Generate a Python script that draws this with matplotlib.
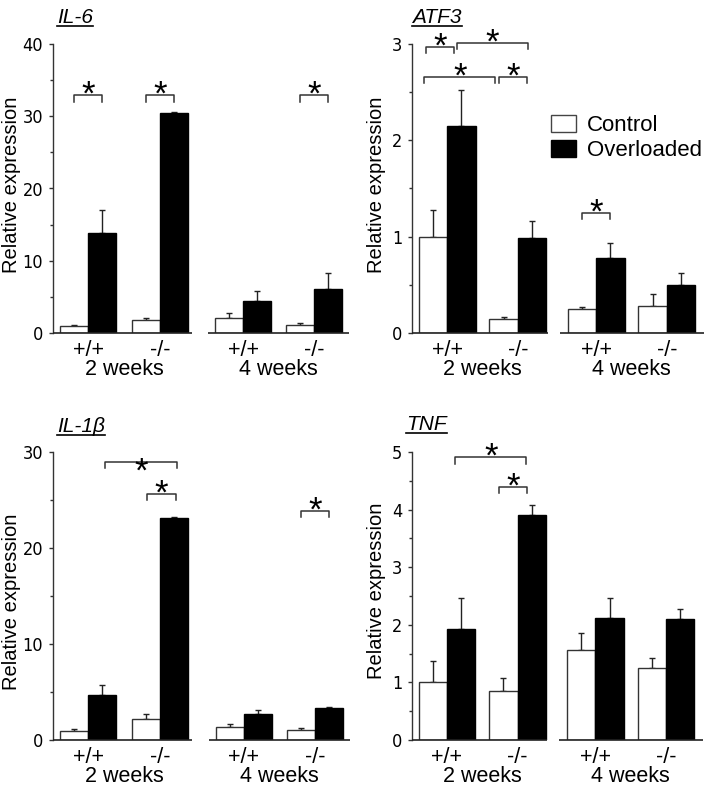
import matplotlib
matplotlib.use("Agg")
import matplotlib.pyplot as plt
from matplotlib import font_manager
from matplotlib.font_manager import FontProperties
from matplotlib.patches import Patch
from matplotlib.lines import Line2D
import numpy as np

plt.rcParams["font.family"] = ["Liberation Sans", "DejaVu Sans"]

# bar order in each panel: 2 wk +/+, 2 wk -/-, 4 wk +/+, 4 wk -/-
genotypes = ["+/+", "-/-", "+/+", "-/-"]
weeks = ["2 weeks", "4 weeks"]
series = ["Control", "Overloaded"]

il6_ctrl = [1.0, 1.75, 2.1, 1.15]
il6_ctrl_err = [0.1, 0.3, 0.7, 0.3]
il6_over = [13.8, 30.4, 4.45, 6.05]
il6_over_err = [3.2, 0.15, 1.3, 2.2]

atf3_ctrl = [1.0, 0.145, 0.25, 0.285]
atf3_ctrl_err = [0.28, 0.02, 0.025, 0.115]
atf3_over = [2.15, 0.99, 0.78, 0.50]
atf3_over_err = [0.37, 0.17, 0.155, 0.12]

il1b_ctrl = [0.97, 2.16, 1.39, 1.04]
il1b_ctrl_err = [0.18, 0.52, 0.24, 0.25]
il1b_over = [4.66, 23.08, 2.71, 3.34]
il1b_over_err = [1.04, 0.1, 0.45, 0.14]

tnf_ctrl = [1.0, 0.85, 1.56, 1.25]
tnf_ctrl_err = [0.38, 0.225, 0.3, 0.18]
tnf_over = [1.93, 3.91, 2.12, 2.10]
tnf_over_err = [0.53, 0.17, 0.34, 0.17]

# significance brackets: (bar a, bar b, height, x shift, star on line)
# bars: 0/1 = ctrl/over 2wk +/+, 2/3 = 2wk -/-, 4/5 = 4wk +/+, 6/7 = 4wk -/-
il6_sig = [(0, 1, 32.9, 0, False), (2, 3, 32.9, 0, False), (6, 7, 32.9, 0, False)]
atf3_sig = [(0, 1, 2.97, -0.25, False), (1, 3, 3.01, -0.15, False),
            (0, 2, 2.66, -0.3, False), (2, 3, 2.66, -0.17, False),
            (4, 5, 1.245, 0, False)]
il1b_sig = [(1, 3, 28.95, 0.1, True), (2, 3, 25.65, 0.04, False),
            (6, 7, 23.88, 0, False)]
tnf_sig = [(1, 3, 4.91, -0.2, False), (2, 3, 4.40, -0.17, False)]

# condensed face for the y tick numbers, if one is installed
tick_prop = FontProperties(family="Liberation Sans", size=12.5)
cands = [f.fname for f in font_manager.fontManager.ttflist
         if ("LiberationSansNarrow-Regular" in f.fname.replace(" ", ""))]
cands += [f.fname for f in font_manager.fontManager.ttflist
          if f.fname.endswith("DejaVuSansCondensed.ttf")]
if cands:
    tick_prop = FontProperties(fname=cands[0], size=13)

W, H = 710, 794
fig = plt.figure(figsize=(W / 100, H / 100), dpi=100)
fig.patch.set_facecolor("white")

left_col = dict(centers=[1.25, 3.82, 6.79, 9.32], segs=[(0, 4.96), (5.54, 10.57)])
right_col = dict(centers=[1.23, 3.72, 6.46, 8.95], segs=[(0, 4.77), (5.19, 10.25)])

panels = [
    ("IL-6", (53, 349, 44, 333), left_col, 40, 10, il6_ctrl, il6_ctrl_err,
     il6_over, il6_over_err, il6_sig, (57, 23), (-41, 0.514)),
    ("ATF3", (412, 704, 44, 333), right_col, 3, 1, atf3_ctrl, atf3_ctrl_err,
     atf3_over, atf3_over_err, atf3_sig, (412, 23), (-36, 0.514)),
    ("IL-1\u03b2", (53, 350, 452, 740), left_col, 30, 10, il1b_ctrl, il1b_ctrl_err,
     il1b_over, il1b_over_err, il1b_sig, (57, 432), (-41, 0.479)),
    ("TNF", (412, 703, 452, 740), right_col, 5, 1, tnf_ctrl, tnf_ctrl_err,
     tnf_over, tnf_over_err, tnf_sig, (406, 430), (-35, 0.517)),
]

titles = []
for (name, (l, r, t, b), col, ymax, step, ctrl, ctrl_err, over, over_err,
     sig, title_pos, ylab_pos) in panels:
    ax = fig.add_axes([l / W, 1 - b / H, (r - l) / W, (b - t) / H])
    centers = np.array(col["centers"])
    x_ctrl = centers - 0.5
    x_over = centers + 0.5
    ax.bar(x_ctrl, ctrl, width=1, facecolor="white", edgecolor="#333333",
           linewidth=1, zorder=2)
    ax.bar(x_over, over, width=1, facecolor="black", edgecolor="black",
           linewidth=1, zorder=2)
    ax.errorbar(x_ctrl, ctrl, yerr=[np.zeros(4), ctrl_err], fmt="none",
                ecolor="#222222", elinewidth=1, capsize=2.5, capthick=1, zorder=1)
    ax.errorbar(x_over, over, yerr=[np.zeros(4), over_err], fmt="none",
                ecolor="#222222", elinewidth=1, capsize=2.5, capthick=1, zorder=1)

    ax.set_xlim(col["segs"][0][0], col["segs"][1][1])
    ax.set_ylim(0, ymax)
    for s in ["top", "right", "bottom"]:
        ax.spines[s].set_visible(False)
    ax.spines["left"].set_color("#333333")
    ax.spines["left"].set_linewidth(1)
    for x0, x1 in col["segs"]:
        ax.plot([x0, x1], [0, 0], color="#222222", lw=1.2, clip_on=False,
                solid_capstyle="butt", zorder=3)

    ax.set_yticks(np.arange(0, ymax + step / 2, step))
    ax.set_yticks(np.arange(step / 2, ymax, step), minor=True)
    ax.tick_params(axis="y", which="major", direction="out", length=3,
                   width=1, color="#333333", pad=4)
    ax.tick_params(axis="y", which="minor", direction="out", length=2,
                   width=1, color="#333333")
    for lab in ax.get_yticklabels():
        lab.set_fontproperties(tick_prop)

    ax.set_xticks(centers, genotypes, fontsize=15.5)
    ax.tick_params(axis="x", length=0, pad=5)
    for k, wk in enumerate(weeks):
        xm = (centers[2 * k] + centers[2 * k + 1]) / 2
        ax.annotate(wk, xy=(xm, 0), xycoords=("data", "axes fraction"),
                    xytext=(0, -37 * 0.72), textcoords="offset points",
                    ha="center", va="center", fontsize=15.5)

    ax.text(ylab_pos[0] / (r - l), ylab_pos[1], "Relative expression",
            transform=ax.transAxes, rotation=90, ha="center", va="center",
            fontsize=14.5)

    # significance brackets
    bar_x = np.empty(8)
    bar_x[0::2] = x_ctrl
    bar_x[1::2] = x_over
    leg = ymax * 0.022
    for a, bb, yb, dx, on_line in sig:
        xa, xb = bar_x[a] + dx, bar_x[bb] + dx
        ax.plot([xa, xa, xb, xb], [yb - leg, yb, yb, yb - leg], color="#333333",
                lw=1.1, clip_on=False, zorder=4)
        ax.annotate("*", xy=((xa + xb) / 2, yb), xycoords="data",
                    xytext=(0, -14 if on_line else -7), textcoords="offset points",
                    ha="center", va="baseline", fontsize=25, zorder=5,
                    annotation_clip=False)

    tt = fig.text(title_pos[0] / W, 1 - title_pos[1] / H, name, fontsize=15,
                  style="italic", ha="left", va="baseline")
    titles.append(tt)

    if name == "ATF3":
        handles = [Patch(facecolor="white", edgecolor="#444444", linewidth=1),
                   Patch(facecolor="black", edgecolor="black", linewidth=1)]
        ax.legend(handles, series, loc="upper left",
                  bbox_to_anchor=(551 / W, 1 - 115 / H),
                  bbox_transform=fig.transFigure, frameon=False, fontsize=16,
                  borderpad=0, borderaxespad=0, handlelength=1.13,
                  handleheight=0.83, handletextpad=0.5, labelspacing=0.15)

# underline the gene names
fig.canvas.draw()
rend = fig.canvas.get_renderer()
for tt in titles:
    bb = tt.get_window_extent(rend)
    yb = tt.get_position()[1] * H - 2.5
    fig.add_artist(Line2D([bb.x0 / W, bb.x1 / W], [yb / H, yb / H],
                          transform=fig.transFigure, color="black", lw=1.2))

fig.savefig("out.png", dpi=100, facecolor="white")
